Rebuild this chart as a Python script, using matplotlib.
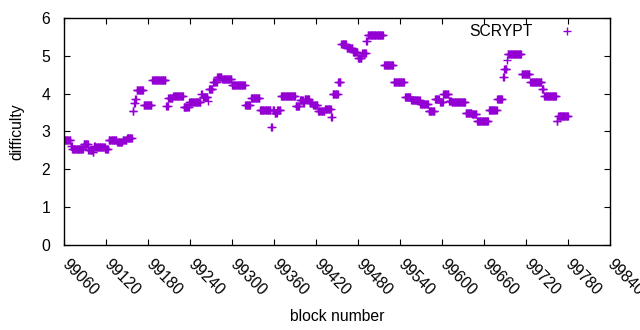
import numpy as np
import matplotlib
matplotlib.use("Agg")
import matplotlib.pyplot as plt

# difficulty is constant between retargets, so the series is stored as runs:
# first block of each run and the difficulty for that run
run_start = [
    99060, 99070, 99072, 99088, 99095, 99101, 99103, 99105, 99119, 99124,
    99136, 99144, 99150, 99158, 99160, 99162, 99164, 99174, 99186, 99206,
    99209, 99216, 99231, 99239, 99256, 99258, 99266, 99267, 99273, 99279,
    99286, 99300, 99319, 99327, 99340, 99356, 99358, 99361, 99365, 99370,
    99391, 99397, 99402, 99404, 99411, 99416, 99423, 99433, 99442, 99444,
    99452, 99456, 99464, 99473, 99480, 99486, 99492, 99494, 99517, 99531,
    99547, 99556, 99569, 99581, 99590, 99597, 99602, 99610, 99614, 99634,
    99643, 99650, 99667, 99679, 99687, 99689, 99693, 99694, 99714, 99726,
    99743, 99746, 99764, 99766,
]
run_value = [
    2.78, 2.62, 2.53, 2.66, 2.50, 2.47, 2.62, 2.58, 2.55, 2.78,
    2.71, 2.77, 2.84, 3.54, 3.75, 3.85, 4.10, 3.71, 4.37, 3.67,
    3.88, 3.95, 3.66, 3.77, 3.99, 3.90, 3.80, 4.13, 4.30, 4.45,
    4.38, 4.23, 3.70, 3.88, 3.58, 3.12, 3.56, 3.48, 3.56, 3.95,
    3.67, 3.84, 3.75, 3.85, 3.76, 3.70, 3.55, 3.60, 3.38, 3.98,
    4.30, 5.30, 5.20, 5.10, 4.95, 5.07, 5.40, 5.55, 4.75, 4.30,
    3.90, 3.83, 3.72, 3.55, 3.85, 3.78, 4.00, 3.80, 3.77, 3.50,
    3.45, 3.28, 3.58, 3.85, 4.45, 4.65, 4.90, 5.05, 4.52, 4.30,
    4.13, 3.95, 3.28, 3.42,
]
last_block = 99780

x_ticks = list(range(99060, 99841, 60))
y_ticks = [0, 1, 2, 3, 4, 5, 6]

run_len = np.diff(run_start + [last_block + 1])
blocks = np.arange(run_start[0], last_block + 1)
difficulty = np.repeat(run_value, run_len)

plt.rcParams["font.family"] = ["Liberation Sans", "DejaVu Sans"]
plt.rcParams["font.size"] = 11.3

fig = plt.figure(figsize=(6.4, 3.3), dpi=100)
ax = fig.add_axes([0.1, 0.2576, 0.853, 0.6879])

ax.plot(blocks, difficulty, "+", color="#9400d3", ms=6, mew=1.0, label="SCRYPT")

ax.set_xlim(99060, 99840)
ax.set_ylim(0, 6)
ax.set_xticks(x_ticks)
ax.set_yticks(y_ticks)
ax.tick_params(direction="in", top=True, right=True, length=4, width=0.8)
ax.tick_params(axis="y", pad=10)
ax.tick_params(axis="x", pad=12)
plt.setp(ax.get_xticklabels(), rotation=-45, ha="left", va="center", rotation_mode="anchor")
for side in ax.spines.values():
    side.set_linewidth(1.0)

ax.set_xlabel("block number", labelpad=8)
ax.set_ylabel("difficulty", labelpad=12)

ax.legend(loc="upper right", bbox_to_anchor=(0.9615, 1.0), frameon=False,
          markerfirst=False, handlelength=2.0, handletextpad=1.2,
          borderaxespad=0, borderpad=0.4)

fig.savefig("out.png", dpi=100)
